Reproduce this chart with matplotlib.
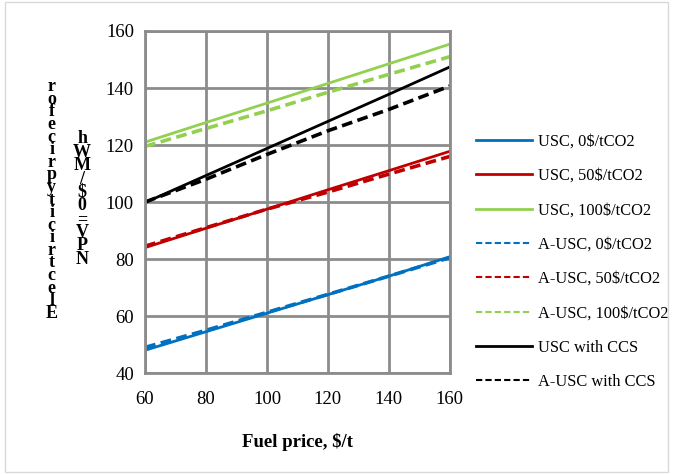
import matplotlib.pyplot as plt
import numpy as np

# dati
fuel_price = [60, 80, 100, 120, 140, 160]
usc_0 = [48, 54.5, 61, 67.5, 74, 80.8]
usc_50 = [84, 90.8, 97.5, 104.3, 111, 117.8]
usc_100 = [121, 127.9, 134.7, 141.6, 148.5, 155.4]
ausc_0 = [49, 55, 61.3, 67.6, 74, 80.5]
ausc_50 = [84.5, 91, 97.5, 103.5, 109.8, 116]
ausc_100 = [119.5, 125.8, 132, 138.5, 144.8, 151]
usc_ccs = [99.8, 109.3, 118.8, 128.3, 137.8, 147.4]
ausc_ccs = [100, 108, 116.7, 125, 132.5, 140.7]

series = [
    ('USC, 0$/tCO2', usc_0, '#0070C0', '-'),
    ('USC, 50$/tCO2', usc_50, '#C00000', '-'),
    ('USC, 100$/tCO2', usc_100, '#92D050', '-'),
    ('A-USC, 0$/tCO2', ausc_0, '#0070C0', '--'),
    ('A-USC, 50$/tCO2', ausc_50, '#C00000', '--'),
    ('A-USC, 100$/tCO2', ausc_100, '#92D050', '--'),
    ('USC with CCS', usc_ccs, 'black', '-'),
    ('A-USC with CCS', ausc_ccs, 'black', '--'),
]

plt.rcParams['font.family'] = 'Liberation Serif'

fig = plt.figure(figsize=(6.73, 4.74), dpi=100)
ax = fig.add_axes([0.2155, 0.213, 0.453, 0.7216])

for label, vals, col, ls in series:
    if ls == '-':
        ax.plot(fuel_price, vals, color=col, linestyle=ls, linewidth=2, label=label)
    else:
        ax.plot(fuel_price, vals, color=col, linestyle=(0, (3, 1.5)), linewidth=2.6, label=label)

ax.set_xlim(60, 160)
ax.set_ylim(40, 160)
ax.set_xticks(np.arange(60, 161, 20))
ax.set_yticks(np.arange(40, 161, 20))
ax.tick_params(length=0, labelsize=13.5)
ax.tick_params(axis='x', pad=13)
ax.tick_params(axis='y', pad=8)
ax.grid(True, color='#8c8c8c', linewidth=2)
ax.set_axisbelow(True)
for s in ax.spines.values():
    s.set_color('#8c8c8c')
    s.set_linewidth(2)

ax.set_xlabel('Fuel price, $/t', fontsize=13.5, fontweight='bold', labelpad=18)

# etichetta asse y a lettere impilate
lab1 = 'Electricity price for'.replace(' ', '')
lab2 = 'NPV=0 $/MWh'.replace(' ', '')
fig.text(0.077, 0.578, '\n'.join(reversed(lab1)), ha='center', va='center',
         fontsize=13, fontweight='bold', linespacing=0.66)
fig.text(0.122, 0.58, '\n'.join(reversed(lab2)), ha='center', va='center',
         fontsize=13, fontweight='bold', linespacing=0.72)

leg = ax.legend(loc='upper left', bbox_to_anchor=(1.085, 0.70), frameon=False,
                fontsize=11.8, labelspacing=1.12, handlelength=3.4, handletextpad=0.4,
                borderpad=0, borderaxespad=0)
for h in leg.get_lines():
    if h.get_linestyle() != '-':
        h.set_linewidth(1.5)

# cornice esterna
fig.patches.append(plt.Rectangle((0.008, 0.005), 0.984, 0.99, transform=fig.transFigure,
                                 fill=False, edgecolor='#d9d9d9', linewidth=1))

plt.savefig('out.png', dpi=100)
